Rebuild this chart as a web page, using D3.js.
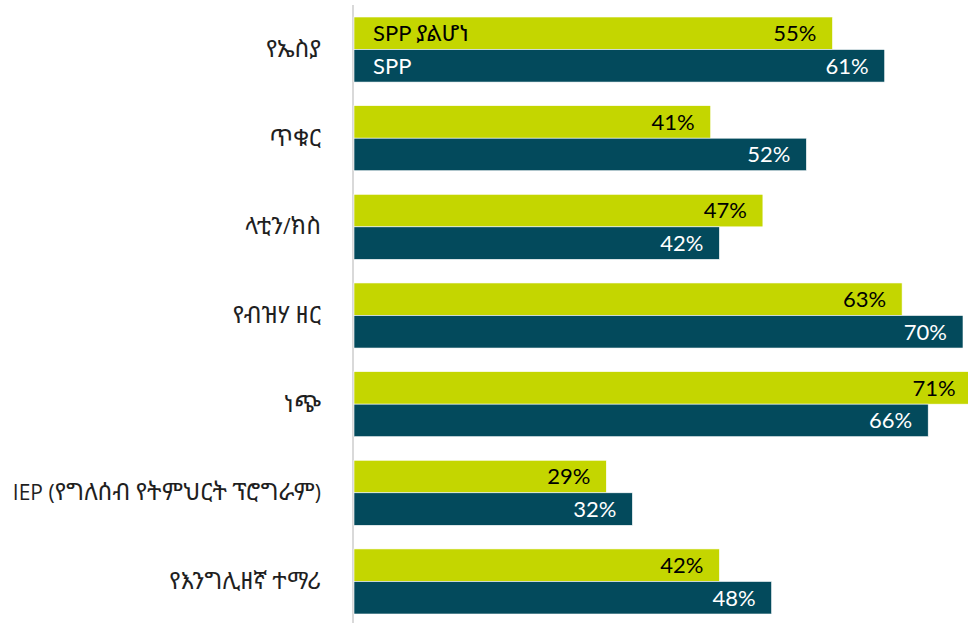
<!DOCTYPE html>
<html>
<head>
<meta charset="utf-8">
<script src="https://cdn.jsdelivr.net/npm/d3@7"></script>
<style>
  html, body { margin: 0; padding: 0; background: #fff; overflow: hidden; }
  svg { display: block; }
</style>
</head>
<body>
<svg id="chart" width="968" height="623"></svg>
<script>
const categories = ["የኤስያ", "ጥቁር", "ላቲን/ክስ", "የብዝሃ ዘር", "ነጭ", "IEP (የግለሰብ የትምህርት ፕሮግራም)", "የእንግሊዘኛ ተማሪ"];
const seriesNames = ["SPP ያልሆነ", "SPP"];
const nonSppValues = [55, 41, 47, 63, 71, 29, 42];
const sppValues = [61, 52, 42, 70, 66, 32, 48];
const seriesColors = ["#c4d600", "#034a5c"];
const labelColors = ["#000000", "#ffffff"];

const svg = d3.select("#chart");
const FONT = "Lato, 'Noto Sans Ethiopic', 'Abyssinica SIL', 'DejaVu Sans', sans-serif";
const CAT_FONT = "'Open Sans', 'Noto Sans Ethiopic', 'Abyssinica SIL', 'DejaVu Sans', sans-serif";

const x0 = 354;
const x = d3.scaleLinear().domain([0, 70]).range([x0, x0 + 609]);

const y = d3.scaleBand().domain(categories).range([17, 614]).paddingInner(0.266).paddingOuter(0);
const ySub = d3.scaleBand().domain(seriesNames).range([0, y.bandwidth()]).padding(0);

const rows = categories.map((c, i) => ({
  cat: c,
  vals: [
    { s: seriesNames[0], v: nonSppValues[i], k: 0 },
    { s: seriesNames[1], v: sppValues[i], k: 1 }
  ]
}));

// split text into Ethiopic / non-Ethiopic runs so each can be sized
function runs(str) {
  const out = [];
  const re = /[\u1200-\u139F]+|[^\u1200-\u139F]+/g;
  let m;
  while ((m = re.exec(str)) !== null) {
    out.push({ t: m[0], eth: /[\u1200-\u139F]/.test(m[0]) });
  }
  return out;
}

// axis line
svg.append("line")
  .attr("x1", x(0) - 1).attr("x2", x(0) - 1)
  .attr("y1", 5).attr("y2", 623)
  .attr("stroke", "#d9d9d9").attr("stroke-width", 2);

const g = svg.selectAll("g.row").data(rows).join("g")
  .attr("class", "row")
  .attr("transform", d => `translate(0,${y(d.cat)})`);

g.selectAll("rect").data(d => d.vals).join("rect")
  .attr("x", x(0))
  .attr("y", d => ySub(d.s))
  .attr("width", d => x(d.v) - x(0))
  .attr("height", ySub.bandwidth())
  .attr("fill", d => seriesColors[d.k])
  .attr("stroke", "#ffffff")
  .attr("stroke-width", 0.6);

g.selectAll("text.val").data(d => d.vals).join("text")
  .attr("class", "val")
  .attr("x", d => x(d.v) - 16)
  .attr("y", d => ySub(d.s) + ySub.bandwidth() / 2)
  .attr("dy", "0.36em")
  .attr("text-anchor", "end")
  .attr("fill", d => labelColors[d.k])
  .style("font-family", FONT)
  .style("font-size", "22px")
  .text(d => d.v + "%");

// category axis labels
const yAxis = d3.axisLeft(y).tickSize(0).tickPadding(0);
const ax = svg.append("g").attr("transform", "translate(321,0)").call(yAxis);
ax.select(".domain").remove();
ax.selectAll("text")
  .style("font-family", CAT_FONT)
  .style("font-size", "21px")
  .attr("fill", "#1f1f1f")
  .attr("dy", "0.35em")
  .each(function(d) {
    const t = d3.select(this);
    t.text(null);
    runs(d).forEach(r => {
      t.append("tspan")
        .style("font-size", r.eth ? "24px" : "21px")
        .text(r.t);
    });
  });

// legend inside first group
const first = rows[0];
svg.append("g").attr("transform", `translate(0,${y(first.cat)})`)
  .selectAll("text").data(seriesNames).join("text")
  .attr("x", 373)
  .attr("y", d => ySub(d) + ySub.bandwidth() / 2)
  .attr("dy", "0.36em")
  .attr("fill", (d, i) => labelColors[i])
  .style("font-family", FONT)
  .style("font-size", "22px")
  .each(function(d) {
    const t = d3.select(this);
    runs(d).forEach(r => {
      t.append("tspan")
        .style("font-size", r.eth ? "23px" : "22px")
        .text(r.t);
    });
  });
</script>
</body>
</html>
